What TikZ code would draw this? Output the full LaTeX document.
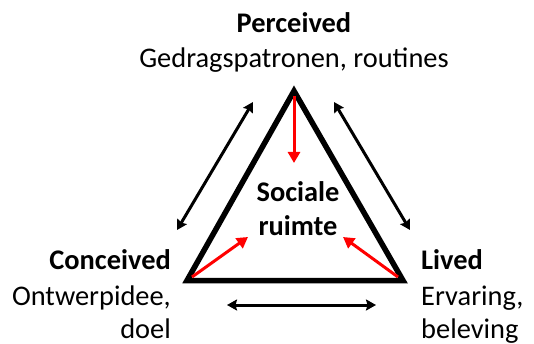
\documentclass[tikz,border=0pt]{standalone}
\usepackage{fontspec}
\setmainfont{Carlito}
\usetikzlibrary{arrows.meta}
\begin{document}
\begin{tikzpicture}[x=1pt,y=-1pt,
  lbl/.style={inner sep=0pt,font=\fontsize{28.4}{34}\selectfont},
  bold/.style={lbl,font=\fontsize{28.4}{34}\selectfont\bfseries},
  tri/.style={line width=5.5pt,line join=miter,miter limit=10},
  redarr/.style={red,line width=3pt,-{Triangle[length=11pt,width=12pt]}},
  blkarr/.style={black,line width=3pt,{Stealth[length=10pt,width=11pt,inset=1.5pt]}-{Stealth[length=10pt,width=11pt,inset=1.5pt]}}]
\useasboundingbox (0,0) rectangle (534,344);
% triangle vertices
\coordinate (T) at (294,91);
\coordinate (L) at (187,280.5);
\coordinate (R) at (403,280.5);
\draw[tri] (T) -- (L) -- (R) -- cycle;
% texts
\node[bold,anchor=base] (perc) at (294,33) {Perceived};
\node[lbl,anchor=base] (percd) at (294,68) {Gedragspatronen, routines};
\node[bold,anchor=base] (soc1) at (298,202) {Sociale};
\node[bold,anchor=base] (soc2) at (298,235) {ruimte};
\node[bold,anchor=base east] (conc) at (171,269) {Conceived};
\node[lbl,anchor=base east] (concd1) at (171,305) {Ontwerpidee,};
\node[lbl,anchor=base east] (concd2) at (171,338) {doel};
\node[bold,anchor=base west] (liv) at (421,269) {Lived};
\node[lbl,anchor=base west] (livd1) at (421,305) {Ervaring,};
\node[lbl,anchor=base west] (livd2) at (421,338) {beleving};
% red arrows
\coordinate (rt0) at (294,96);
\coordinate (rt1) at (294,163);
\coordinate (rl0) at (192,277);
\coordinate (rl1) at (248,237);
\coordinate (rr0) at (398,277);
\coordinate (rr1) at (343,237);
\draw[redarr] (rt0) -- (rt1);
\draw[redarr] (rl0) -- (rl1);
\draw[redarr] (rr0) -- (rr1);
% black arrows
\coordinate (bl0) at (177,230);
\coordinate (bl1) at (253,102);
\coordinate (br0) at (334,102);
\coordinate (br1) at (410,230);
\coordinate (bb0) at (227,305);
\coordinate (bb1) at (376,305);
\draw[blkarr] (bl0) -- (bl1);
\draw[blkarr] (br0) -- (br1);
\draw[blkarr] (bb0) -- (bb1);
\end{tikzpicture}
\end{document}
